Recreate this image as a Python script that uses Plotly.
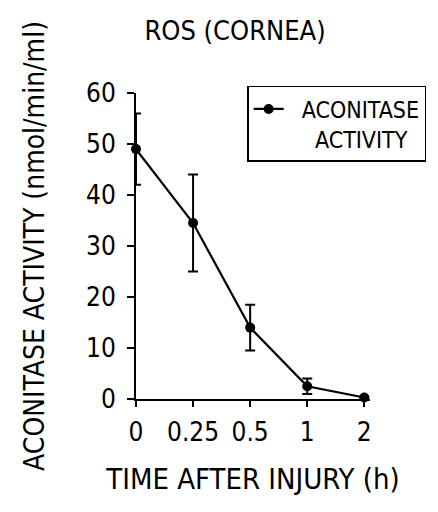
import plotly.graph_objects as go

# values
time_labels = ["0", "0.25", "0.5", "1", "2"]
activity = [49, 34.5, 14, 2.5, 0.3]
activity_err = [7, 9.5, 4.5, 1.5, 0]

FONT = "Liberation Sans Narrow, Arial Narrow, DejaVu Sans Condensed, sans-serif"

fig = go.Figure()
fig.add_trace(go.Scatter(
    x=time_labels, y=activity,
    mode="lines+markers",
    name="\u00a0\u00a0ACONITASE<br>\u00a0\u00a0\u00a0\u00a0ACTIVITY",
    line=dict(color="black", width=2.2),
    marker=dict(color="black", size=10),
    error_y=dict(type="data", array=activity_err, visible=True,
                 color="black", thickness=2, width=5),
    cliponaxis=False,
))

# page body adds an 8px offset, so the figure is 8px smaller than the window
fig.update_layout(
    width=430, height=504,
    margin=dict(l=128, r=66, t=85, b=113),
    paper_bgcolor="white", plot_bgcolor="white",
    font=dict(family=FONT, color="black", size=24),
    title=dict(text="ROS (CORNEA)", x=0.528, xanchor="center",
               y=0.956, yanchor="middle", font=dict(size=27)),
    showlegend=True,
    legend=dict(x=0.475, y=1.023, xanchor="left", yanchor="top",
                bordercolor="black", borderwidth=1.5, bgcolor="white",
                font=dict(size=23), valign="top"),
)

fig.update_xaxes(
    type="category", range=[0, 4.1], automargin=False,
    showline=True, linecolor="black", linewidth=2,
    ticks="outside", ticklen=6, tickwidth=2, tickcolor="black",
    showgrid=False, zeroline=False,
    tickfont=dict(size=26), ticklabelstandoff=3,
    title=dict(text="TIME AFTER INJURY (h)", font=dict(size=29), standoff=22),
)
fig.update_yaxes(
    range=[0, 60], tickvals=[0, 10, 20, 30, 40, 50, 60], automargin=False,
    showline=True, linecolor="black", linewidth=2,
    ticks="outside", ticklen=7, tickwidth=2, tickcolor="black",
    showgrid=False, zeroline=False,
    tickfont=dict(size=26), ticklabelstandoff=6,
    title=dict(text="ACONITASE ACTIVITY (nmol/min/ml)", font=dict(size=28), standoff=33),
)

fig.write_html("out.html")
